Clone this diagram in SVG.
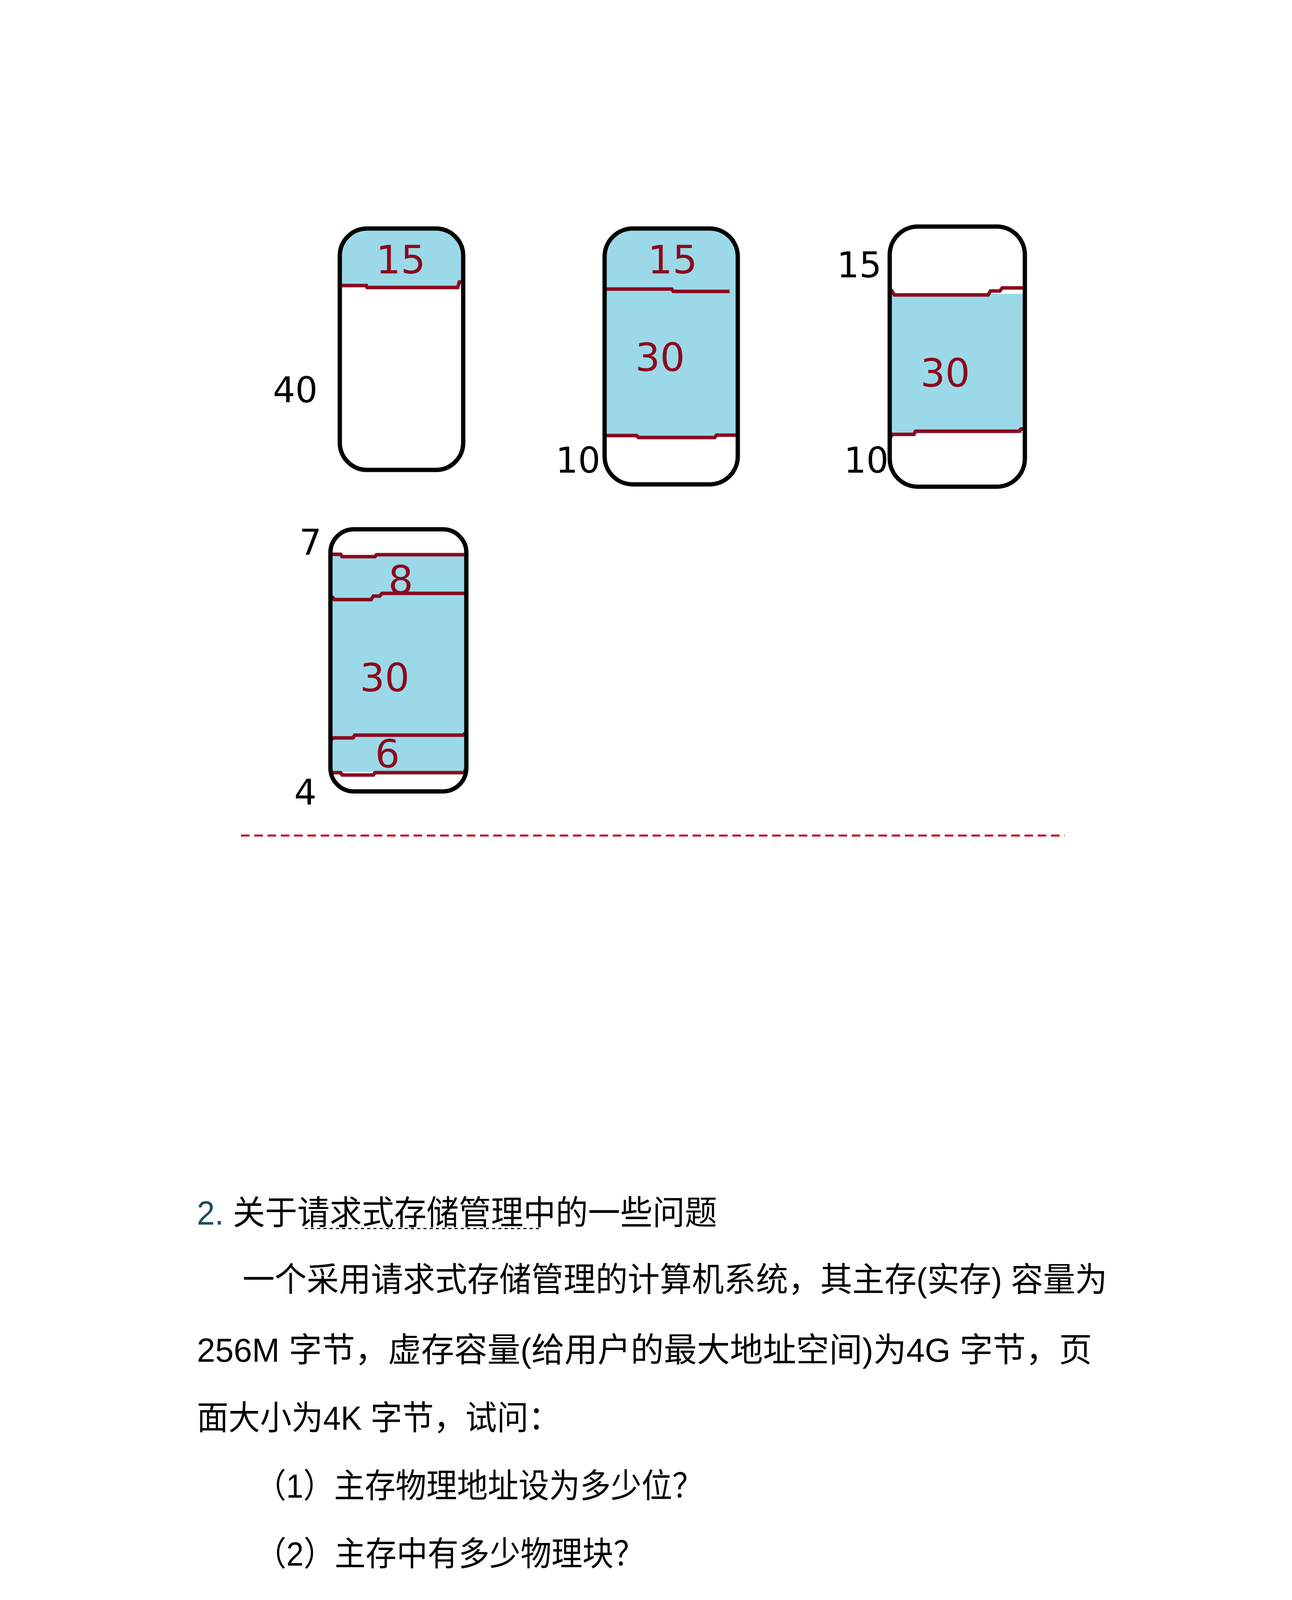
<svg xmlns="http://www.w3.org/2000/svg" width="3308" height="4678" viewBox="0 0 3308 4678">
<style>
.box{fill:none;stroke:#000;stroke-width:11}
.blue{fill:#9cd9e8}
.rl{fill:none;stroke:#8b0a1e;stroke-width:9}
.rd{font-family:"DejaVu Sans",sans-serif;fill:#8b0a1e;font-size:100px;text-anchor:middle}
.bk{font-family:"DejaVu Sans",sans-serif;fill:#000;font-size:90px;text-anchor:middle}
.t{font-family:"Liberation Sans","Noto Sans CJK SC",sans-serif;font-size:86px;fill:#000}
</style>
<rect width="3308" height="4678" fill="#fff"/>
<g id="box1">
<path class="blue" d="M870,732 V650 Q870,585 940,585 H1118 Q1186,585 1186,650 V722 L1176,722 L1172,736 H940 L938,730 Z"/>
<path class="rl" d="M870,731 H938 L940,736 H1172 L1176,722 H1186"/>
<rect class="box" x="870" y="585" width="316" height="618" rx="70"/>
<text class="rd" x="1026" y="700">15</text>
<text class="bk" x="756" y="1030">40</text>
</g>
<g id="box2">
<path class="blue" d="M1548,745 V650 Q1548,585 1618,585 H1819 Q1889,585 1889,650 V1117 H1548 Z"/>
<path class="rl" d="M1548,746 L1552,740 H1720 L1724,746 H1868"/>
<path class="rl" d="M1548,1115 H1630 L1635,1120 H1830 L1834,1114 H1885"/>
<rect class="box" x="1548" y="585" width="341" height="655" rx="72"/>
<text class="rd" x="1722" y="700">15</text>
<text class="rd" x="1690" y="950">30</text>
<text class="bk" x="1480" y="1210" font-size="62">10</text>
</g>
<g id="box3">
<path class="blue" d="M2278,752 H2625 V1109 H2278 Z"/>
<path class="rl" d="M2282,742 L2290,755 H2530 L2536,745 H2560 L2566,737 H2620"/>
<path class="rl" d="M2280,1120 L2284,1112 H2340 L2344,1104 H2610 L2614,1098 H2622"/>
<rect class="box" x="2278" y="580" width="346" height="666" rx="72"/>
<text class="bk" x="2200" y="710" font-size="80">15</text>
<text class="rd" x="2420" y="990" font-size="130">30</text>
<text class="bk" x="2218" y="1210" font-size="62">10</text>
</g>
<g id="box4">
<path class="blue" d="M846,1422 H1192 V1976 H846 Z"/>
<path class="rl" d="M846,1419 H872 L876,1425 H960 L964,1420 H1192"/>
<path class="rl" d="M850,1527 L856,1535 H950 L956,1526 H972 L978,1519 H1190"/>
<path class="rl" d="M848,1895 L852,1889 H904 L908,1882 H1186 L1192,1876"/>
<path class="rl" d="M848,1978 H872 L876,1984 H956 L960,1978 H1188 L1192,1970"/>
<rect class="box" x="846" y="1355" width="348" height="671" rx="60"/>
<text class="rd" x="1026" y="1520">8</text>
<text class="rd" x="985" y="1770" font-size="130">30</text>
<text class="rd" x="992" y="1965">6</text>
<text class="bk" x="795" y="1420">7</text>
<text class="bk" x="782" y="2060" font-size="110">4</text>
</g>
<g id="connectors">
<line x1="617" y1="2139" x2="2726" y2="2139" stroke="#c00010" stroke-width="5" stroke-dasharray="22,12"/>
</g>
<g id="text">
<text class="t" x="504" y="3135" textLength="1332" lengthAdjust="spacingAndGlyphs"><tspan fill="#1f4e5a">2.</tspan> 关于请求式存储管理中的一些问题</text>
<line x1="780" y1="3145" x2="1380" y2="3145" stroke="#000" stroke-width="3" stroke-dasharray="8,8"/>
<text class="t" x="621" y="3306" textLength="2214" lengthAdjust="spacingAndGlyphs">一个采用请求式存储管理的计算机系统，其主存(实存) 容量为</text>
<text class="t" x="504" y="3486" textLength="2292" lengthAdjust="spacingAndGlyphs">256M 字节，虚存容量(给用户的最大地址空间)为4G 字节，页</text>
<text class="t" x="504" y="3660" textLength="930" lengthAdjust="spacingAndGlyphs">面大小为4K 字节，试问：</text>
<text class="t" x="654" y="3834" textLength="1146" lengthAdjust="spacingAndGlyphs">（1）主存物理地址设为多少位？</text>
<text class="t" x="654" y="4008" textLength="996" lengthAdjust="spacingAndGlyphs">（2）主存中有多少物理块？</text>
<text class="t" x="654" y="4182" textLength="1170" lengthAdjust="spacingAndGlyphs">（3）虚拟地址应该设为多少位？</text>
</g>
</svg>
